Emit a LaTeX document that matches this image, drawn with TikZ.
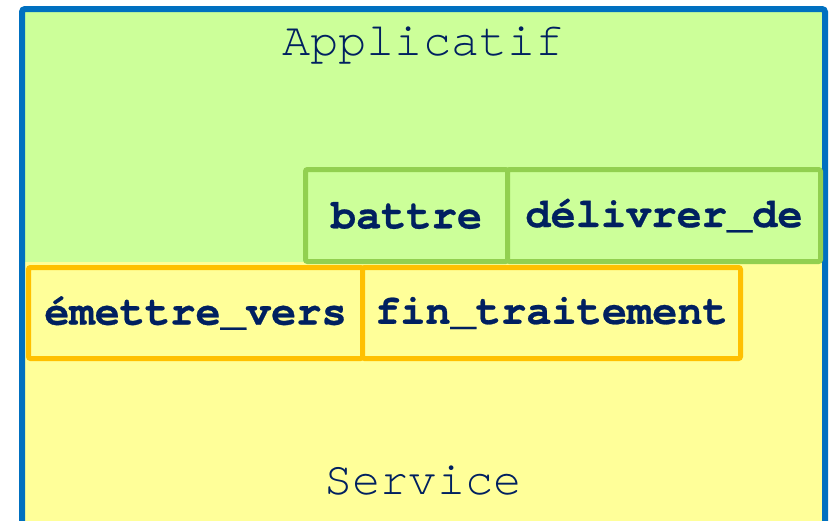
\documentclass[tikz,border=0pt]{standalone}
\usepackage{fontspec}
\newfontfamily\monofont{texgyrecursor}[Extension=.otf, UprightFont=*-regular, BoldFont=*-bold, Ligatures=NoCommon, BoldFeatures={FakeBold=0.6}]
\definecolor{navy}{HTML}{002060}
\definecolor{frameblue}{HTML}{0070C0}
\definecolor{appgreen}{HTML}{CCFF99}
\definecolor{edgegreen}{HTML}{92D050}
\definecolor{srvyellow}{HTML}{FFFF99}
\definecolor{edgeorange}{HTML}{FFC000}
\begin{document}
\begin{tikzpicture}[x=1pt,y=-1pt,
  layertitle/.style={font=\monofont\fontsize{47}{50}\selectfont, text=navy, inner sep=0pt},
  opbox/.style={draw, line width=5pt, rounded corners=2pt, inner sep=0pt, anchor=north west,
    font=\monofont\bfseries\fontsize{42}{46}\selectfont, text=navy},
  appop/.style={opbox, draw=edgegreen, fill=appgreen},
  srvop/.style={opbox, draw=edgeorange, fill=srvyellow},
]
\useasboundingbox (0,0) rectangle (829,520);
\begin{scope}
  \clip (0,0) rectangle (829,520);
  % the two layers
  \fill[appgreen] (22,9) rectangle (825,262);
  \fill[srvyellow] (22,262) rectangle (825,540);
  % outer frame
  \draw[frameblue, line width=6pt, rounded corners=3pt] (22,9) rectangle (825,540);
\end{scope}

\node[layertitle] (app) at (423,46) {Applicatif};
\node[layertitle] (srv) at (423,481) {Service};

% application-layer operations
\node[appop, minimum width=202pt, minimum height=92pt] (battre) at (303,167) {battre};
\node[appop, minimum width=313pt, minimum height=92pt] (delivrer) at (505,167) {délivrer\_de};

% service-layer operations
\node[srvop, minimum width=334pt, minimum height=91pt] (emettre) at (26,265) {émettre\_vers};
\node[srvop, minimum width=378pt, minimum height=91pt] (fin) at (360,265) {fin\_traitement};
\end{tikzpicture}
\end{document}
